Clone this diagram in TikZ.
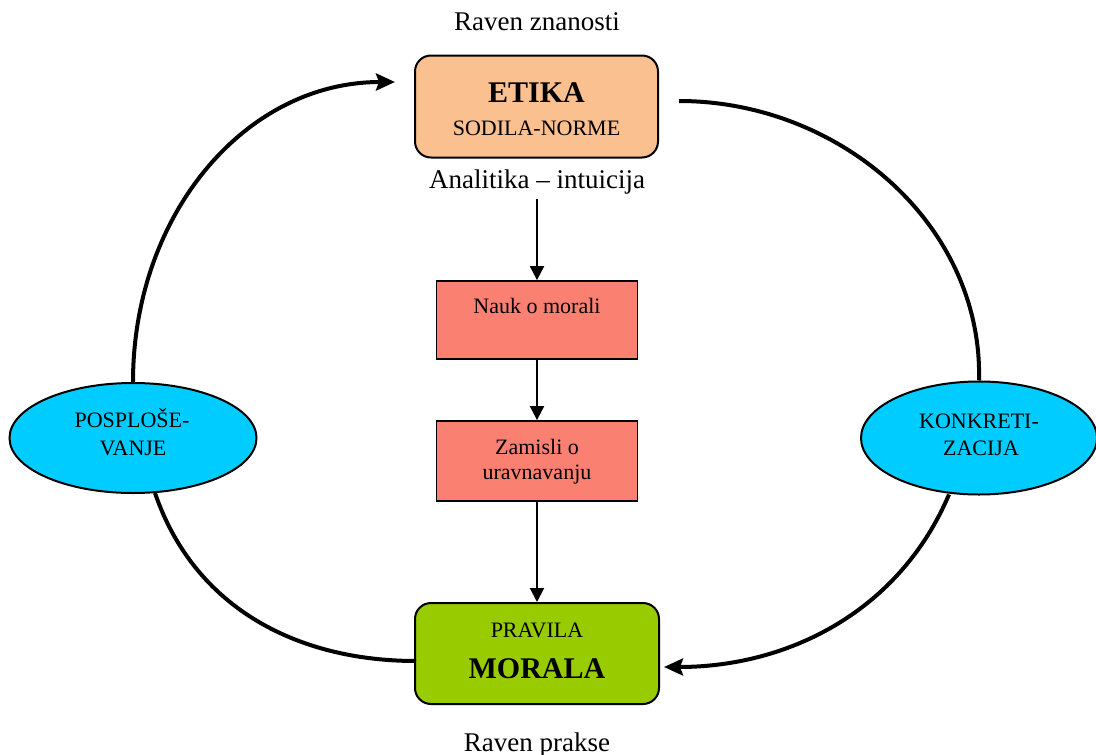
\documentclass[tikz,border=0pt]{standalone}
\usepackage{fontspec}
\setmainfont{Liberation Serif}
\usetikzlibrary{arrows.meta,shapes.geometric}
\definecolor{etikafill}{RGB}{250,192,144}
\definecolor{redfill}{RGB}{250,128,114}
\definecolor{greenfill}{RGB}{153,204,0}
\definecolor{cyanfill}{RGB}{0,204,255}
\tikzset{
 bigbox/.style={draw=black, line width=2pt, rounded corners=16pt, minimum width=243pt, minimum height=102pt, inner sep=0pt},
 midbox/.style={draw=black, line width=1.8pt, fill=redfill, minimum width=201pt, inner sep=0pt},
 oval/.style={ellipse, draw=black, line width=2pt, fill=cyanfill, inner sep=0pt},
 txt/.style={inner sep=0pt, anchor=base},
 arc/.style={line width=4pt},
 bigtip/.style={-{Stealth[length=19pt,width=17pt,inset=3pt]}},
 vline/.style={line width=2pt, -{Triangle[length=14pt,width=14pt]}},
 normal/.style={font=\fontsize{27}{32}\selectfont},
 small/.style={font=\fontsize{22}{26}\selectfont},
 large/.style={font=\fontsize{30}{34}\selectfont\bfseries},
}
\begin{document}
\begin{tikzpicture}[x=1pt,y=-1pt]
\useasboundingbox (0,0) rectangle (1096,755);
% boxes
\node[bigbox, fill=etikafill] (etika) at (536.5,106.5) {};
\node[midbox, minimum height=78pt] (nauk) at (537,320) {};
\node[midbox, minimum height=80pt] (zamisli) at (537,461) {};
\node[bigbox, fill=greenfill, minimum width=244pt, minimum height=101pt] (morala) at (537,653.5) {};
\node[oval, minimum width=247pt, minimum height=110pt] (posp) at (133,438) {};
\node[oval, minimum width=236pt, minimum height=113pt] (konk) at (979,438) {};
% texts
\node[txt, normal] (rz) at (537,30) {Raven znanosti};
\node[txt, large] (etikat) at (536.5,102) {ETIKA};
\node[txt, small] (sodila) at (536.5,135) {SODILA-NORME};
\node[txt, normal] (anal) at (537,188) {Analitika – intuicija};
\node[txt, small] (naukt) at (537,313) {Nauk o morali};
\node[txt, small] (zam1) at (537,454) {Zamisli o};
\node[txt, small] (zam2) at (537,479) {uravnavanju};
\node[txt, small] (prav) at (537,637) {PRAVILA};
\node[txt, large] (moralat) at (537,678) {MORALA};
\node[txt, normal] (rp) at (537,751) {Raven prakse};
\node[txt, small] (posp1) at (132,427) {POSPLOŠE-};
\node[txt, small] (posp2) at (133,455) {VANJE};
\node[txt, small] (konk1) at (979,428) {KONKRETI-};
\node[txt, small] (konk2) at (981,455) {ZACIJA};
% coordinates for free ends
\coordinate (etaIn) at (395,82);
\coordinate (anaOut) at (537,199);
\coordinate (etaOut) at (679,101);
\coordinate (morIn) at (664,667);
\coordinate (morOutL) at (416,661);
% vertical arrows
\draw[vline] (anaOut) -- (nauk.north);
\draw[vline] (nauk.south) -- (zamisli.north);
\draw[vline] (zamisli.south) -- (morala.north);
% big arcs
\draw[arc, bigtip] (posp.north) .. controls (133,215) and (245,82) .. (etaIn);
\draw[arc] (etaOut) .. controls (840,101) and (983,225) .. (konk.north);
\draw[arc, bigtip] (konk.south) ++(-30,-1) .. controls (900,610) and (790,667) .. (morIn);
\draw[arc] (posp.south) ++(22,-1) .. controls (195,610) and (300,661) .. (morOutL);
\end{tikzpicture}
\end{document}
